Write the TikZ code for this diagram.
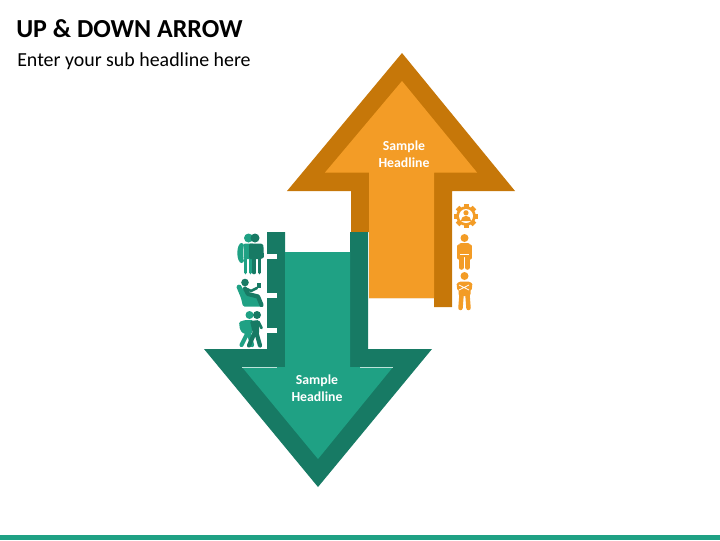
\documentclass[tikz,border=0pt]{standalone}
\usepackage{fontspec}
\setmainfont{Carlito}
\definecolor{orangeLight}{HTML}{F39C26}
\definecolor{orangeDark}{HTML}{C67709}
\definecolor{tealLight}{HTML}{1FA184}
\definecolor{tealDark}{HTML}{177A64}
\begin{document}
\begin{tikzpicture}[x=0.025cm,y=-0.025cm,
    headline/.style = {text=white, font=\fontsize{9.8}{12}\selectfont\bfseries, align=center},
    limbT/.style = {draw=tealDark, line width=2.6pt, line cap=round, line join=round},
    limbL/.style = {draw=tealLight, line width=2.6pt, line cap=round, line join=round},
    limbO/.style = {draw=orangeLight, line width=2.4pt, line cap=round, line join=round}]
\useasboundingbox (0,0) rectangle (720,540);
% title
\node[anchor=base west, inner sep=0pt, font=\fontsize{18.45}{20}\selectfont\bfseries] (title) at (16,37) {UP \& DOWN ARROW};
\node[anchor=base west, inner sep=0pt, font=\fontsize{14.15}{16}\selectfont] (subtitle) at (17,66.5) {Enter your sub headline here};
\fill[tealLight] (0,534.5) rectangle (720,540);
% up arrow
\fill[orangeDark] (402,53) -- (515,191) -- (452,191) -- (452,307) -- (434,307) -- (434,298) -- (369,298) -- (369,232) -- (351,232) -- (351,191) -- (287,191) -- cycle;
\fill[orangeLight] (402,81) -- (477,172.5) -- (434,172.5) -- (434,298) -- (369,298) -- (369,172.5) -- (325,172.5) -- cycle;
% down arrow
\fill[tealDark] (318,487) -- (432,349) -- (368,349) -- (368,232) -- (350,232) -- (350,252) -- (285,252) -- (285,232) -- (267,232) -- (267,349) -- (204,349) -- cycle;
\fill[tealLight] (318,459) -- (393,367) -- (350,367) -- (350,252) -- (285,252) -- (285,367) -- (242,367) -- cycle;
\draw[white!70!tealLight, line width=0.5pt] (242,367) -- (277,367) (360,367) -- (393,367);
\foreach \y in {256.5,295.5,330.5}
    \fill[white] (267,\y-2.5) rectangle (277,\y+2.5);
% labels
\node[headline] (upLabel) at (404,154) {Sample\\Headline};
\node[headline] (downLabel) at (317,388) {Sample\\Headline};
% couple with backpack
\fill[tealLight] (241.5,253) ellipse [x radius=4.2, y radius=10];
\fill[white] (245,253) ellipse [x radius=2, y radius=9];
\fill[tealLight] (248.5,238) circle [radius=4.5];
\fill[tealLight, rounded corners=1pt] (243.5,243.5) rectangle (254,259);
\draw[limbL] (245.5,259) -- (245.5,272.5) (250.5,259) -- (250.5,272.5);
\fill[tealDark] (255,238) circle [radius=4.5];
\fill[tealDark, rounded corners=1pt] (249,243.5) rectangle (262.5,259);
\draw[limbT] (254,259) -- (254,272.5) (259.5,259) -- (259.5,272.5);
\draw[limbT, line width=2pt] (262,245.5) -- (262.5,257);
% person in armchair
\fill[tealLight, rounded corners=1pt] (236,286) -- (240,284) -- (246,294) -- (259,296.5) -- (263,305) -- (262,306.5) -- (243,306.5) -- (241,298) -- cycle;
\fill[tealDark] (245,282.5) circle [radius=3.8];
\draw[limbT, line width=3pt] (245,288.5) -- (248,294) -- (258,296.5) -- (261.5,305);
\draw[limbT, line width=1.8pt] (247,289) -- (251,291) -- (257,288);
\fill[tealDark] (257,283) rectangle (261,288);
% walking pair
\fill[tealLight] (249.5,315) circle [radius=4];
\fill[tealLight, rounded corners=1pt] (239,322) -- (245,320) -- (253,320) -- (252,334) -- (244,334) -- (240,330) -- cycle;
\draw[limbL, line width=3pt] (247.5,333) -- (241.5,345) (249,333) -- (252,345);
\fill[tealDark] (257,315) circle [radius=4];
\fill[tealDark, rounded corners=1pt] (250,321) -- (259,320) -- (259,334) -- (253,334) -- cycle;
\draw[limbT, line width=3pt] (254.5,333) -- (249,345.5) (256.5,333) -- (260,345.5);
\draw[limbT, line width=2pt] (258.5,322) -- (261.5,328);
% gear
\fill[orangeLight] (466,216) circle [radius=9.8];
\foreach \a in {0,45,...,315}
    \fill[orangeLight, rotate around={\a:(466,216)}] (463.5,204) rectangle (468.5,208);
\fill[white] (466,216) circle [radius=7];
\fill[orangeLight] (466,212.8) circle [radius=2.6];
\fill[orangeLight] (460.8,221) arc[start angle=180, end angle=360, radius=5.2] -- cycle;
% standing person
\fill[orangeLight] (464.5,238) circle [radius=4];
\fill[orangeLight, rounded corners=1.5pt] (459,243) rectangle (470,257);
\draw[limbO] (458.5,246) -- (458.5,258) (470.5,246) -- (470.5,258);
\draw[limbO, line width=3.2pt] (461.5,256) -- (461.5,267.5) (467.5,256) -- (467.5,267.5);
\draw[white, line width=0.4pt] (460,254) -- (469,254);
% person with crossed arms
\fill[orangeLight] (464.5,276) circle [radius=4];
\fill[orangeLight, rounded corners=1.5pt] (458.5,281.5) rectangle (470.5,296);
\draw[limbO, line width=2.6pt] (458.5,284) -- (459,289);
\draw[limbO, line width=2.6pt] (470.5,284) -- (470,289);
\draw[white, line width=0.5pt] (459,285) -- (469,290) (469,285) -- (459,290);
\draw[limbO, line width=3.2pt] (461.5,295) -- (460.5,308) (467.5,295) -- (468.5,308);
\end{tikzpicture}
\end{document}
